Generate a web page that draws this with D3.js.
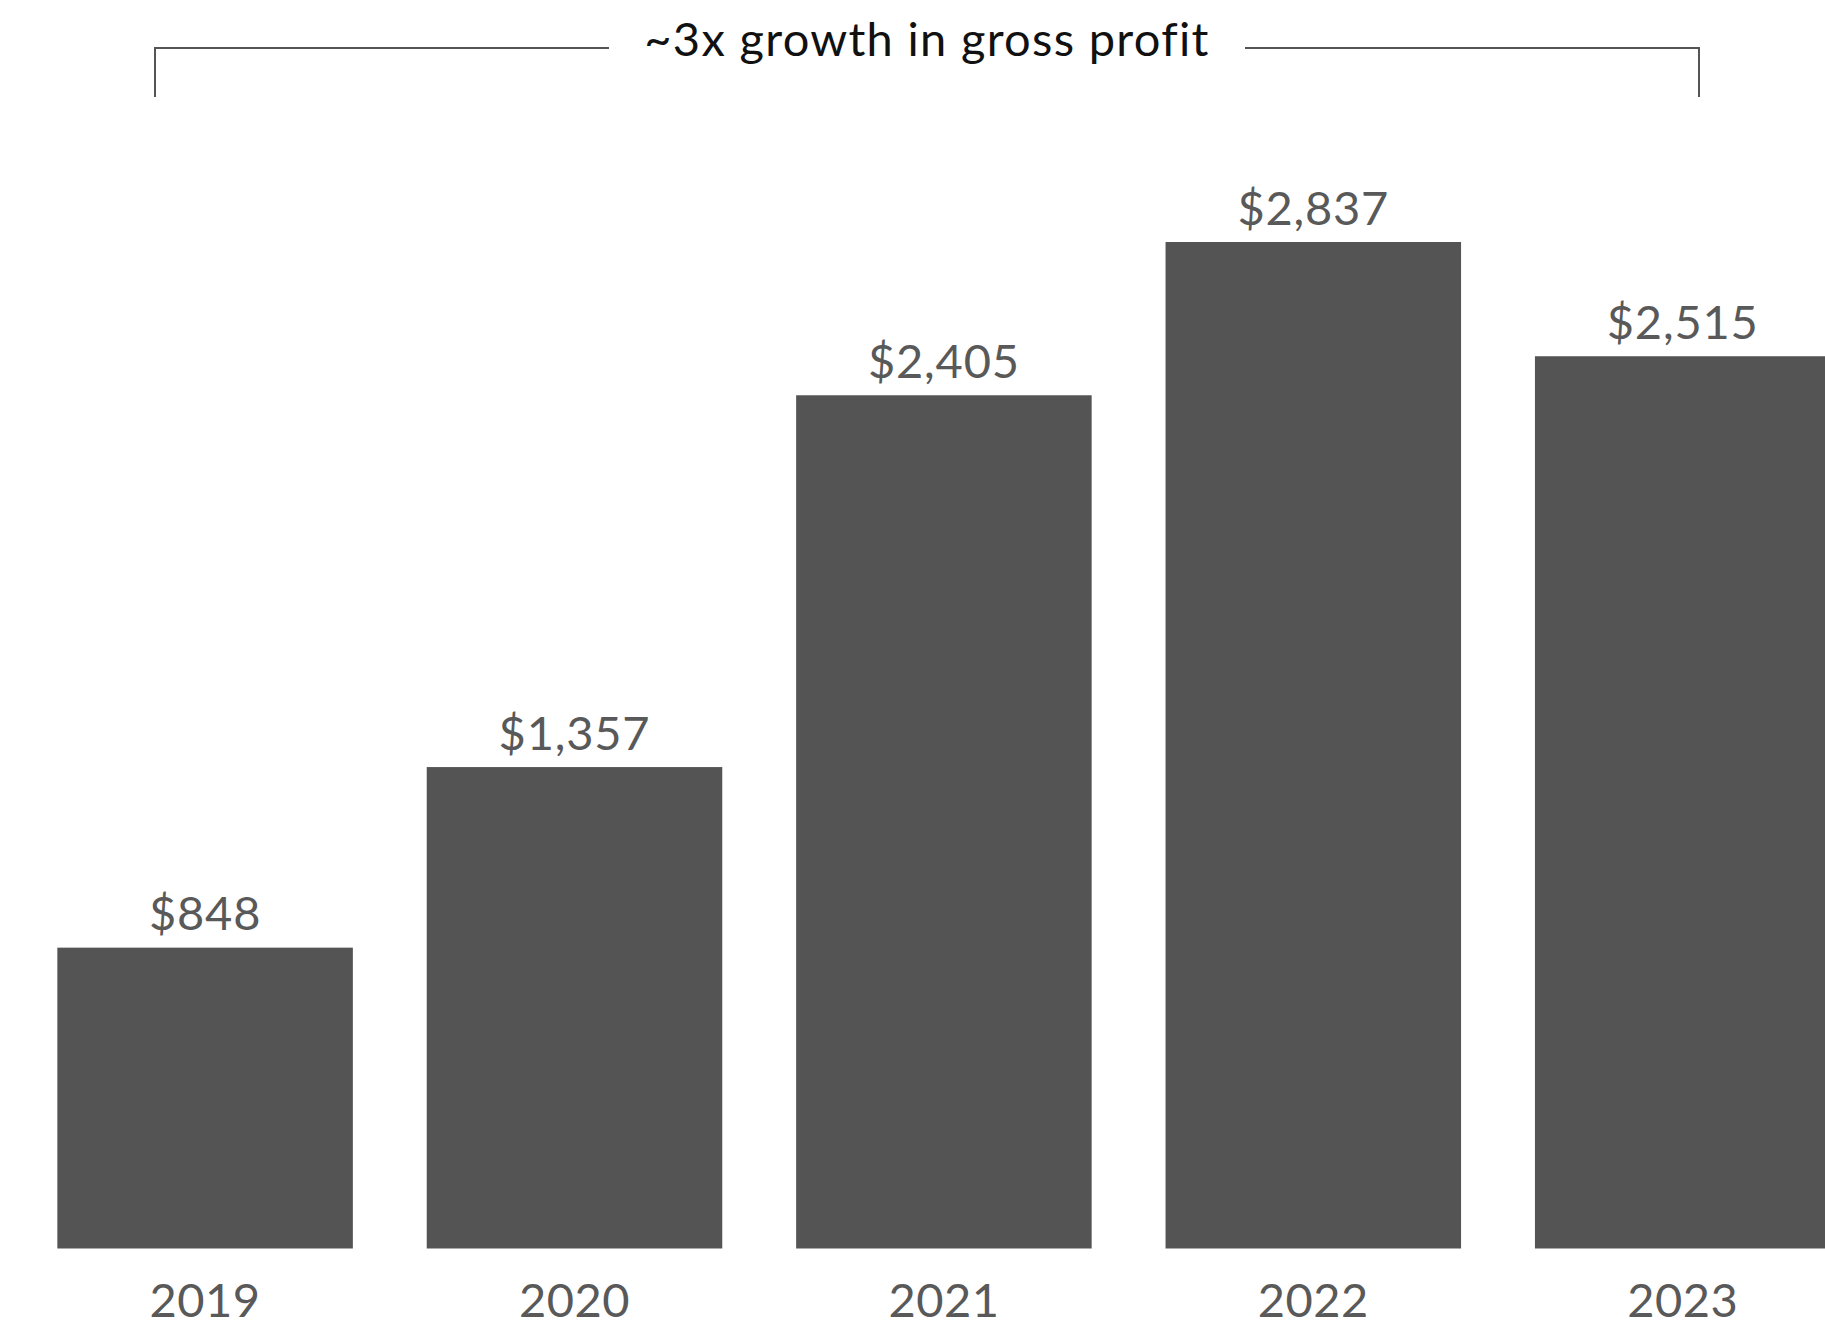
<!DOCTYPE html>
<html>
<head>
<meta charset="utf-8">
<script src="https://cdn.jsdelivr.net/npm/d3@7"></script>
<style>
  html, body { margin: 0; padding: 0; background: #ffffff; }
  svg { display: block; }
</style>
</head>
<body>
<svg id="chart" width="1825" height="1326"></svg>
<script>
// Gross profit by year ($ millions)
const years = ["2019", "2020", "2021", "2022", "2023"];
const grossProfit = [848, 1357, 2405, 2837, 2515];
const valueLabels = ["$848", "$1,357", "$2,405", "$2,837", "$2,515"];
const bracketTitle = "~3x growth in gross profit";

const W = 1825, H = 1326;
const barColor = "#545454";
const labelColor = "#595959";
const fontFamily = "Lato, 'Open Sans', sans-serif";

const svg = d3.select("#chart");

const x = d3.scaleBand()
  .domain(years)
  .range([20.4, 1867.4])
  .paddingInner(0.2)
  .paddingOuter(0.1);

const baseY = 1248.5;
const y = d3.scaleLinear()
  .domain([0, 2837])
  .range([baseY, 242]);

const data = years.map((yr, i) => ({ year: yr, value: grossProfit[i], label: valueLabels[i] }));

// Bars
svg.append("g")
  .selectAll("rect")
  .data(data)
  .join("rect")
  .attr("x", d => x(d.year))
  .attr("y", d => y(d.value))
  .attr("width", x.bandwidth())
  .attr("height", d => baseY - y(d.value))
  .attr("fill", barColor);

// Value labels above bars
svg.append("g")
  .selectAll("text")
  .data(data)
  .join("text")
  .attr("x", d => x(d.year) + x.bandwidth() / 2)
  .attr("y", d => y(d.value) - 17.5)
  .attr("text-anchor", "middle")
  .attr("font-family", fontFamily)
  .attr("font-size", 47)
  .attr("letter-spacing", 0.8)
  .attr("fill", labelColor)
  .text(d => d.label);

// Category axis (labels only)
const xAxis = d3.axisBottom(x).tickSize(0).tickPadding(0);
const axisG = svg.append("g")
  .attr("transform", `translate(0, ${baseY})`)
  .call(xAxis);
axisG.select(".domain").remove();
axisG.selectAll("text")
  .attr("dy", null)
  .attr("y", 68)
  .attr("font-family", fontFamily)
  .attr("font-size", 47)
  .attr("letter-spacing", 0.5)
  .attr("fill", labelColor);

// Bracket spanning the five years, broken around its caption
const bx0 = 155, bx1 = 1699;
const bTop = 48, bBottom = 97;
const titleX = (bx0 + bx1) / 2;
const gapHalf = 318;
const bracket = svg.append("g")
  .attr("fill", "none")
  .attr("stroke", "#555555")
  .attr("stroke-width", 2);
bracket.append("path")
  .attr("d", `M${bx0},${bBottom}V${bTop}H${titleX - gapHalf}`);
bracket.append("path")
  .attr("d", `M${titleX + gapHalf},${bTop}H${bx1}V${bBottom}`);

svg.append("text")
  .attr("x", titleX)
  .attr("y", 56)
  .attr("text-anchor", "middle")
  .attr("font-family", fontFamily)
  .attr("font-size", 47)
  .attr("letter-spacing", 1.3)
  .attr("fill", "#111111")
  .text(bracketTitle);
</script>
</body>
</html>
